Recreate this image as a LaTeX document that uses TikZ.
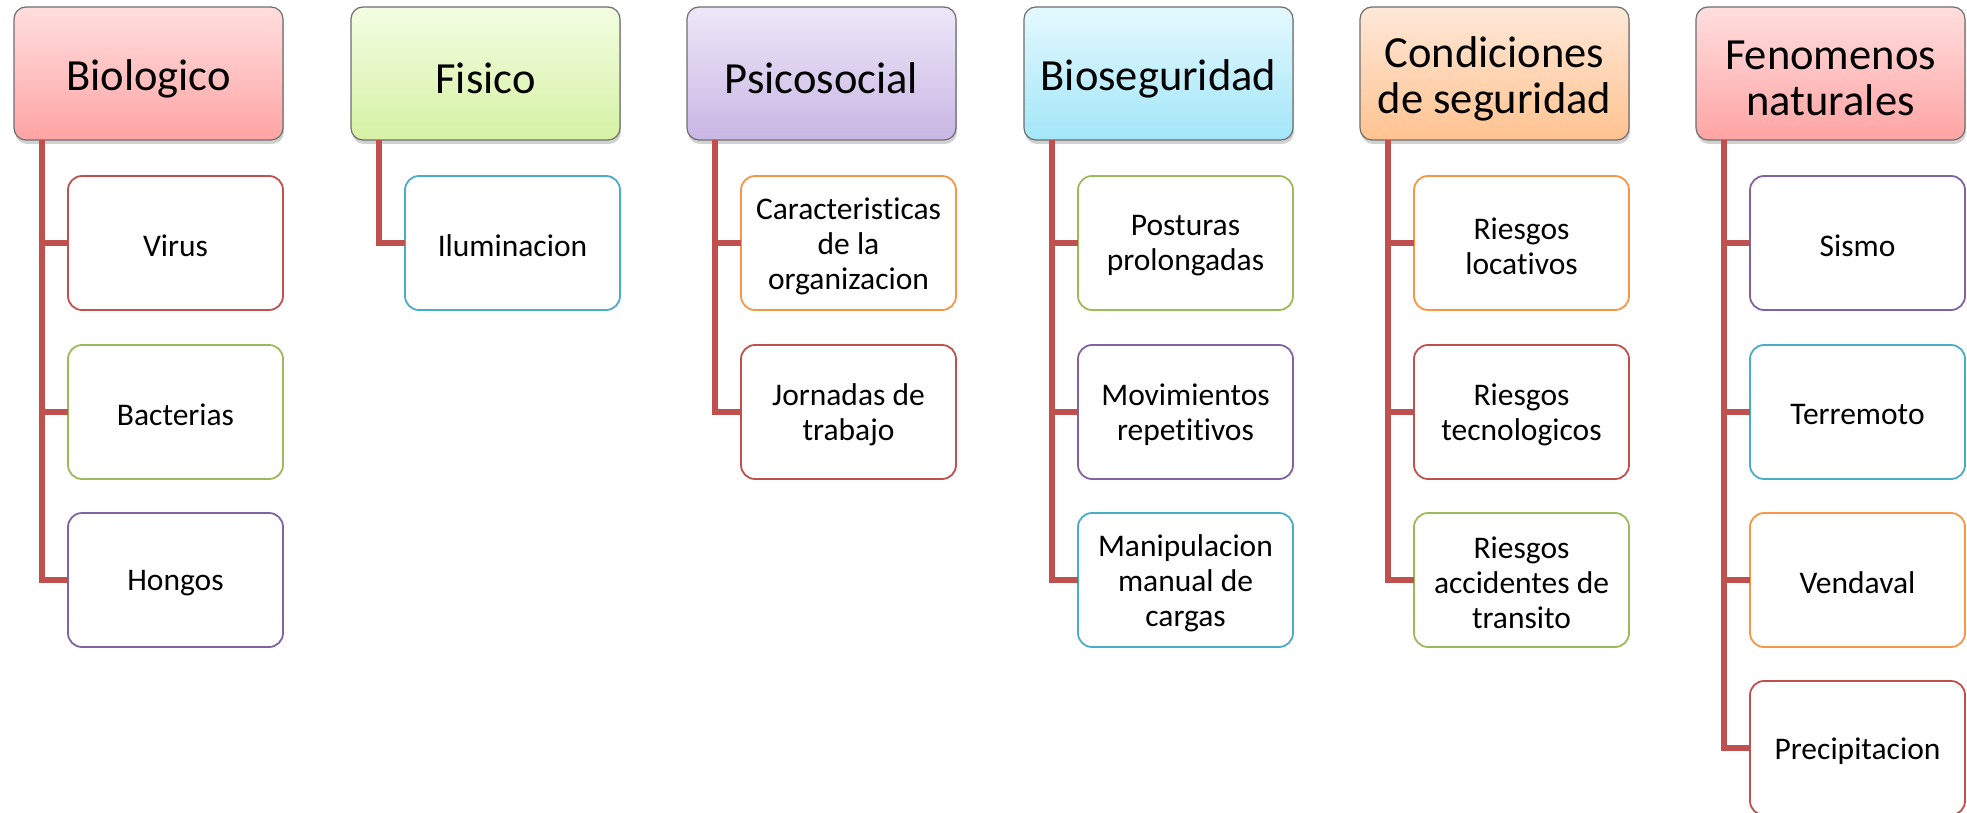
\documentclass[tikz,border=0pt]{standalone}
\usepackage{fontspec}
\setmainfont{Carlito}[Ligatures={NoCommon}]
\usetikzlibrary{shadows}
\definecolor{cred}{HTML}{C0504D}
\definecolor{cgreen}{HTML}{9BBB59}
\definecolor{cpurple}{HTML}{8064A2}
\definecolor{ccyan}{HTML}{4BACC6}
\definecolor{corange}{HTML}{F79646}
\definecolor{pinkT}{HTML}{FFDEDE}
\definecolor{pinkB}{HTML}{FFA4A4}
\definecolor{greenT}{HTML}{F3FDE2}
\definecolor{greenB}{HTML}{D6F2A4}
\definecolor{lavT}{HTML}{EEE7F8}
\definecolor{lavB}{HTML}{C8B6E4}
\definecolor{cyanT}{HTML}{E4F9FF}
\definecolor{cyanB}{HTML}{A2E6F8}
\definecolor{peachT}{HTML}{FFE8D8}
\definecolor{peachB}{HTML}{FFC390}
\definecolor{hdrline}{HTML}{6E6E6E}
\tikzset{
  hdr/.style={draw=hdrline, line width=1.2pt, rounded corners=12pt,
    anchor=north west, minimum width=269pt, minimum height=133pt,
    inner sep=0pt, outer sep=0pt,
    drop shadow={shadow xshift=1pt, shadow yshift=-4pt, opacity=.3, fill=black!60},
    label={[align=center, font=\fontsize{44.5}{46}\selectfont, yshift=-5pt, inner sep=0pt]center:#1}},
  kid/.style 2 args={draw=#1, fill=white, line width=1.8pt, rounded corners=14pt,
    anchor=north west, minimum width=215pt, minimum height=134pt,
    inner sep=0pt, outer sep=0pt,
    label={[align=center, font=\fontsize{31.5}{35}\selectfont, yshift=-3pt, inner sep=0pt]center:#2}},
  conn/.style={draw=cred, line width=6pt, line join=miter}
}
\begin{document}
\begin{tikzpicture}[x=1pt,y=-1pt]
\useasboundingbox (0,0) rectangle (1967,813);
% headers
\node[hdr={Biologico}, top color=pinkT, bottom color=pinkB] (h1) at (14,7) {};
\node[hdr={Fisico}, top color=greenT, bottom color=greenB] (h2) at (351,7) {};
\node[hdr={Psicosocial}, top color=lavT, bottom color=lavB] (h3) at (687,7) {};
\node[hdr={Bioseguridad}, top color=cyanT, bottom color=cyanB] (h4) at (1024,7) {};
\node[hdr={Condiciones\\de seguridad}, top color=peachT, bottom color=peachB] (h5) at (1360,7) {};
\node[hdr={Fenomenos\\naturales}, top color=pinkT, bottom color=pinkB] (h6) at (1696,7) {};
% children column 1
\node[kid={cred}{Virus}] (c11) at (68,176) {};
\node[kid={cgreen}{Bacterias}] (c12) at (68,345) {};
\node[kid={cpurple}{Hongos}] (c13) at (68,513) {};
% column 2
\node[kid={ccyan}{Iluminacion}] (c21) at (405,176) {};
% column 3
\node[kid={corange}{Caracteristicas\\de la\\organizacion}] (c31) at (741,176) {};
\node[kid={cred}{Jornadas de\\trabajo}] (c32) at (741,345) {};
% column 4
\node[kid={cgreen}{Posturas\\prolongadas}] (c41) at (1078,176) {};
\node[kid={cpurple}{Movimientos\\repetitivos}] (c42) at (1078,345) {};
\node[kid={ccyan}{Manipulacion\\manual de\\cargas}] (c43) at (1078,513) {};
% column 5
\node[kid={corange}{Riesgos\\locativos}] (c51) at (1414,176) {};
\node[kid={cred}{Riesgos\\tecnologicos}] (c52) at (1414,345) {};
\node[kid={cgreen}{Riesgos\\accidentes de\\transito}] (c53) at (1414,513) {};
% column 6
\node[kid={cpurple}{Sismo}] (c61) at (1750,176) {};
\node[kid={ccyan}{Terremoto}] (c62) at (1750,345) {};
\node[kid={corange}{Vendaval}] (c63) at (1750,513) {};
\node[kid={cred}{Precipitacion}] (c64) at (1750,681) {};
% connectors
\foreach \h/\kids in {h1/{c11,c12,c13}, h2/{c21}, h3/{c31,c32}, h4/{c41,c42,c43}, h5/{c51,c52,c53}, h6/{c61,c62,c63,c64}}{
  \foreach \k in \kids {
    \draw[conn] ([xshift=28pt]\h.south west) |- (\k.west);
  }
}
\end{tikzpicture}
\end{document}
